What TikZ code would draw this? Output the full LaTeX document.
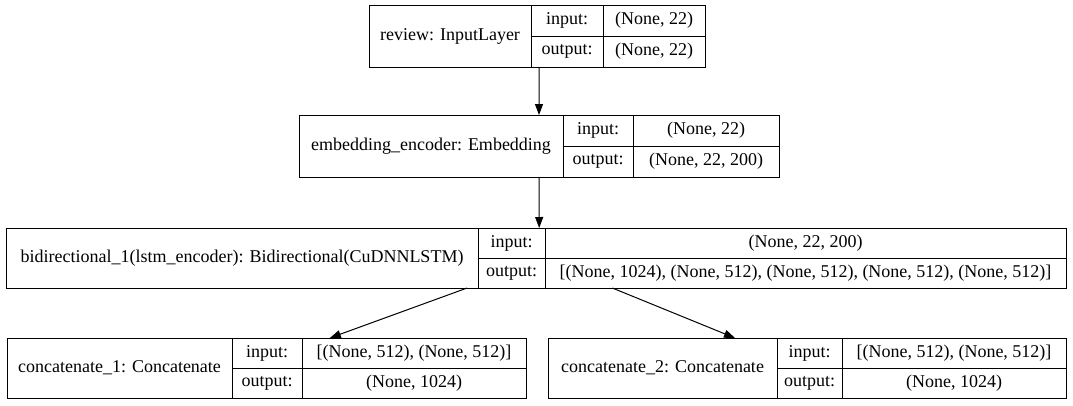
\documentclass[tikz,border=0pt]{standalone}
\usepackage{fontspec}
\setmainfont{Liberation Serif}
\usetikzlibrary{arrows.meta,calc}

% one keras layer: id, corner, name/label/value widths, height, title, input, output
\newcommand{\kerasbox}[9]{%
  \node[cell,anchor=north west,minimum width=#3bp,minimum height=#6bp] (#1) at (#2) {#7};
  \node[cell,anchor=north west,minimum width=#4bp,minimum height=#6bp/2] (#1-il) at (#1.north east) {input:};
  \node[cell,anchor=north west,minimum width=#4bp,minimum height=#6bp/2] (#1-ol) at (#1-il.south west) {output:};
  \node[cell,anchor=north west,minimum width=#5bp,minimum height=#6bp/2] (#1-iv) at (#1-il.north east) {#8};
  \node[cell,anchor=north west,minimum width=#5bp,minimum height=#6bp/2] (#1-ov) at (#1-iv.south west) {#9};
}

\tikzset{
  cell/.style={draw,line width=1bp,inner sep=0pt,outer sep=0pt,font=\rmfamily\fontsize{18bp}{20bp}\selectfont},
  flow/.style={-{Triangle[length=11bp,width=8bp]},line width=1bp},
}

\begin{document}
\begin{tikzpicture}[x=1bp,y=-1bp]
  \useasboundingbox (0,0) rectangle (1073,405);

  \kerasbox{review}{369,5}{162}{72}{102}{62}{review: InputLayer}{(None, 22)}{(None, 22)}
  \kerasbox{embed}{299,115}{264}{70}{146}{62}{embedding\_encoder: Embedding}{(None, 22)}{(None, 22, 200)}
  \kerasbox{bidir}{6,228}{472}{67}{521}{60}{bidirectional\_1(lstm\_encoder): Bidirectional(CuDNNLSTM)}{(None, 22, 200)}{[(None, 1024), (None, 512), (None, 512), (None, 512), (None, 512)]}
  \kerasbox{concatA}{7,338}{225}{70}{224}{60}{concatenate\_1: Concatenate}{[(None, 512), (None, 512)]}{(None, 1024)}
  \kerasbox{concatB}{548,338}{229}{65}{224}{60}{concatenate\_2: Concatenate}{[(None, 512), (None, 512)]}{(None, 1024)}

  % edges
  \draw[flow] ($(review.south west)!0.506!(review-ov.south east)$) -- ($(embed.north west)!0.5!(embed-iv.north east)$);
  \draw[flow] ($(embed.south west)!0.5!(embed-ov.south east)$) -- ($(bidir.north west)!0.503!(bidir-iv.north east)$);
  \draw[flow] ($(bidir.south west)!0.435!(bidir-ov.south east)$) -- ($(concatA.north west)!0.622!(concatA-iv.north east)$);
  \draw[flow] ($(bidir.south west)!0.572!(bidir-ov.south east)$) -- ($(concatB.north west)!0.361!(concatB-iv.north east)$);
\end{tikzpicture}
\end{document}
